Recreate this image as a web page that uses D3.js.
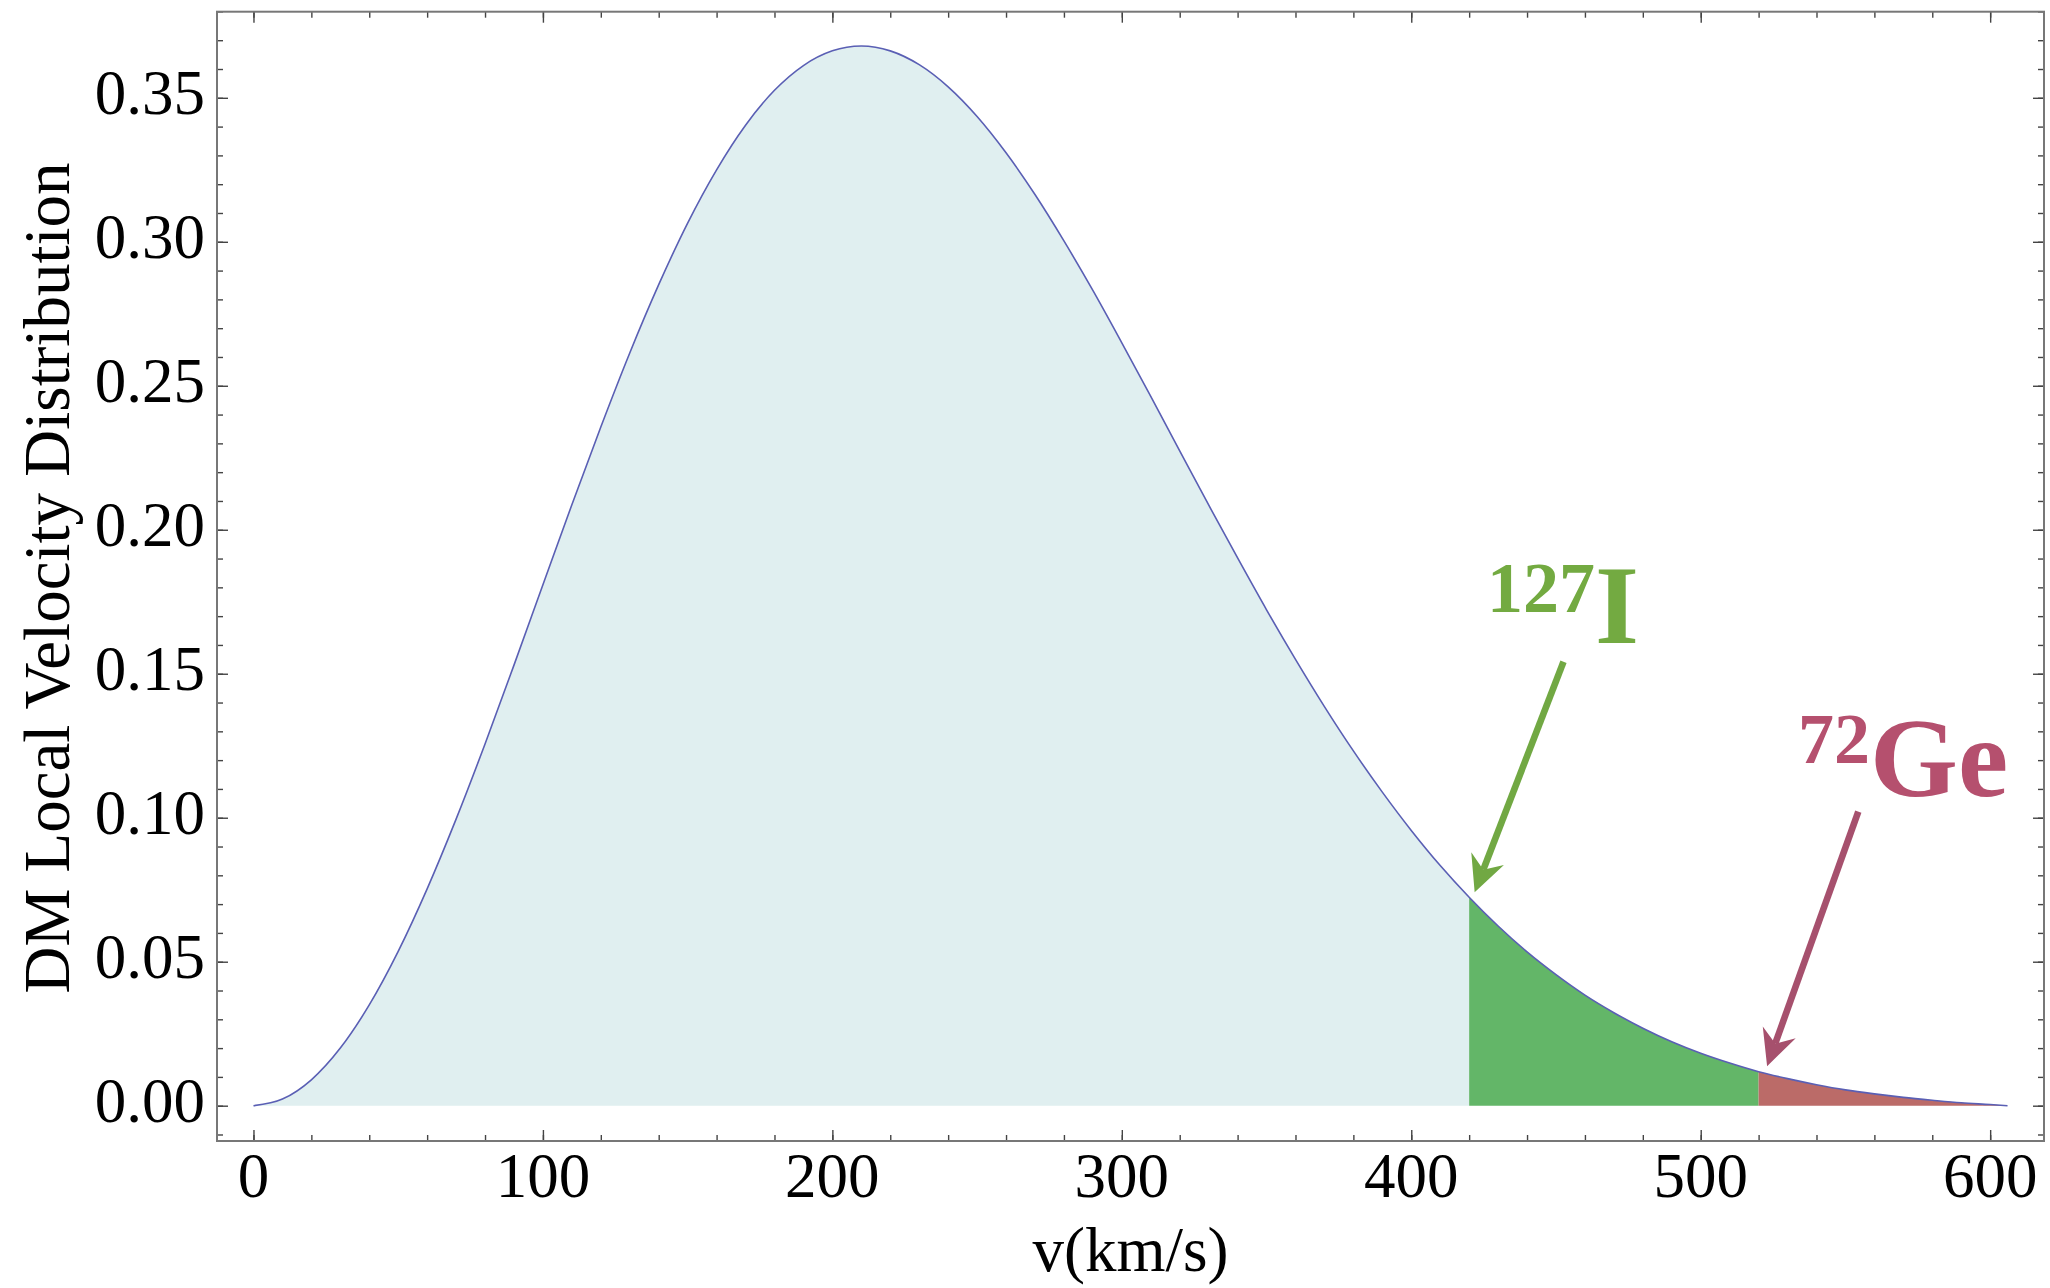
<!DOCTYPE html>
<html>
<head>
<meta charset="utf-8">
<script src="https://cdn.jsdelivr.net/npm/d3@7"></script>
<style>
  html, body { margin: 0; padding: 0; background: #fff; }
  svg { display: block; }
  text { font-family: "Liberation Serif", "DejaVu Serif", serif; }
</style>
</head>
<body>
<svg id="chart" width="2050" height="1288"></svg>
<script>
// Speed grid (km/s) and distribution values
const speeds = [0,10,20,30,40,50,60,70,80,90,100,110,120,130,140,150,160,170,180,190,
  200,210,220,230,240,250,260,270,280,290,300,310,320,330,340,350,360,370,380,390,
  400,410,420,430,440,450,460,470,480,490,500,510,520,530,540,550,560,570,580,590,600,606];
const density = [0,0.0023,0.0090,0.0200,0.0350,0.0536,0.0753,0.0995,0.1256,0.1530,
  0.1809,0.2087,0.2357,0.2614,0.2851,0.3065,0.3250,0.3405,0.3526,0.3612,
  0.3663,0.3680,0.3663,0.3615,0.3538,0.3435,0.3309,0.3164,0.3003,0.2831,
  0.2649,0.2463,0.2274,0.2086,0.1902,0.1722,0.1550,0.1386,0.1232,0.1089,
  0.0956,0.0834,0.0724,0.0624,0.0534,0.0455,0.0384,0.0323,0.0269,0.0222,
  0.0182,0.0148,0.0118,0.0094,0.0073,0.0055,0.0041,0.0029,0.0019,0.0010,0.0004,0];

// Detector thresholds (km/s) that split the shaded regions
const thresholds = [420, 520];
const regionNames = ["all", "127I", "72Ge"];

const xTicks = [0, 100, 200, 300, 400, 500, 600];
const xMinorTicks = d3.range(0, 620, 20);
const yTicks = [0.00, 0.05, 0.10, 0.15, 0.20, 0.25, 0.30, 0.35];
const yMinorTicks = d3.range(-0.01, 0.3801, 0.01);

const xLabel = "v(km/s)";
const yLabel = "DM Local Velocity Distribution";

const svg = d3.select("#chart");
const frame = { left: 217, right: 2044, top: 11.7, bottom: 1141 };

const x = d3.scaleLinear().domain([-12.6, 618.6]).range([frame.left, frame.right]);
const y = d3.scaleLinear().domain([-0.01226, 0.3799]).range([frame.bottom, frame.top]);

const pts = speeds.map((v, i) => ({ v, f: density[i] }));

const area = d3.area().x(d => x(d.v)).y0(y(0)).y1(d => y(d.f)).curve(d3.curveMonotoneX);
const line = d3.line().x(d => x(d.v)).y(d => y(d.f)).curve(d3.curveMonotoneX);

const fills = { "all": "#e0eff0", "127I": "#63b668", "72Ge": "#bb6b68" };
const bounds = [0, ...thresholds, 606];
regionNames.forEach((name, i) => {
  const seg = pts.filter(d => d.v >= bounds[i] && d.v <= bounds[i + 1]);
  svg.append("path").attr("d", area(seg)).attr("fill", fills[name]);
});

svg.append("path").attr("d", line(pts))
  .attr("fill", "none").attr("stroke", "#5a5fb4").attr("stroke-width", 1.6);

// Frame with ticks on all four sides
const tickColor = "#444";
function styleAxis(g) {
  g.select(".domain").remove();
  g.selectAll(".tick line").attr("stroke", tickColor).attr("stroke-width", 1.4);
  g.selectAll("text").remove();
}
svg.append("g").attr("transform", `translate(0,${frame.bottom})`)
  .call(d3.axisBottom(x).tickValues(xMinorTicks).tickSize(-6)).call(styleAxis);
svg.append("g").attr("transform", `translate(0,${frame.bottom})`)
  .call(d3.axisBottom(x).tickValues(xTicks).tickSize(-11)).call(styleAxis);
svg.append("g").attr("transform", `translate(0,${frame.top})`)
  .call(d3.axisTop(x).tickValues(xMinorTicks).tickSize(-6)).call(styleAxis);
svg.append("g").attr("transform", `translate(0,${frame.top})`)
  .call(d3.axisTop(x).tickValues(xTicks).tickSize(-11)).call(styleAxis);
svg.append("g").attr("transform", `translate(${frame.left},0)`)
  .call(d3.axisLeft(y).tickValues(yMinorTicks).tickSize(-6)).call(styleAxis);
svg.append("g").attr("transform", `translate(${frame.left},0)`)
  .call(d3.axisLeft(y).tickValues(yTicks).tickSize(-11)).call(styleAxis);
svg.append("g").attr("transform", `translate(${frame.right},0)`)
  .call(d3.axisRight(y).tickValues(yMinorTicks).tickSize(-6)).call(styleAxis);
svg.append("g").attr("transform", `translate(${frame.right},0)`)
  .call(d3.axisRight(y).tickValues(yTicks).tickSize(-11)).call(styleAxis);

svg.append("rect")
  .attr("x", frame.left).attr("y", frame.top)
  .attr("width", frame.right - frame.left).attr("height", frame.bottom - frame.top)
  .attr("fill", "none").attr("stroke", "#777").attr("stroke-width", 2);

// Tick labels
svg.append("g").selectAll("text").data(xTicks).join("text")
  .attr("x", d => x(d)).attr("y", 1197)
  .attr("text-anchor", "middle").attr("font-size", 63).attr("fill", "#000")
  .text(d => d3.format("d")(d));
svg.append("g").selectAll("text").data(yTicks).join("text")
  .attr("x", 205).attr("y", d => y(d) + 16.5)
  .attr("text-anchor", "end").attr("font-size", 63).attr("fill", "#000")
  .text(d => d3.format(".2f")(d));

// Axis titles
svg.append("text").attr("x", (frame.left + frame.right) / 2).attr("y", 1271)
  .attr("text-anchor", "middle").attr("font-size", 63).text(xLabel);
svg.append("text").attr("transform", "translate(69,578) rotate(-90)")
  .attr("text-anchor", "middle").attr("font-size", 65).text(yLabel);

// Isotope labels with arrows pointing at each threshold
function arrow(x1, y1, x2, y2, color) {
  const dx = x2 - x1, dy = y2 - y1, len = Math.hypot(dx, dy);
  const ux = dx / len, uy = dy / len, nx = -uy, ny = ux;
  const back = 36, notch = 24, half = 17.5, w = 3.3;
  const P = (a, b) => [x2 - ux * a + nx * b, y2 - uy * a + ny * b];
  svg.append("line")
    .attr("x1", x1).attr("y1", y1)
    .attr("x2", x2 - ux * notch).attr("y2", y2 - uy * notch)
    .attr("stroke", color).attr("stroke-width", 2 * w);
  svg.append("path")
    .attr("d", "M" + [P(0, 0), P(back, half), P(notch, 0), P(back, -half)].join("L") + "Z")
    .attr("fill", color);
}

const iodine = svg.append("text").attr("font-weight", "bold").attr("fill", "#73aa41");
iodine.append("tspan").attr("x", 1487).attr("y", 611.7).attr("font-size", 72).text("127");
iodine.append("tspan").attr("y", 643.3).attr("font-size", 113).text("I");
arrow(1563.5, 661.7, x(thresholds[0]) + 5.5, y(0.0724) - 5, "#71a843");

const germanium = svg.append("text").attr("font-weight", "bold").attr("fill", "#b5506e");
germanium.append("tspan").attr("x", 1798).attr("y", 763).attr("font-size", 72).text("72");
germanium.append("tspan").attr("y", 795.5).attr("font-size", 113).text("Ge");
arrow(1858.3, 811.7, x(thresholds[1]) + 8.5, y(0.0118) - 5.5, "#a6506d");
</script>
</body>
</html>
